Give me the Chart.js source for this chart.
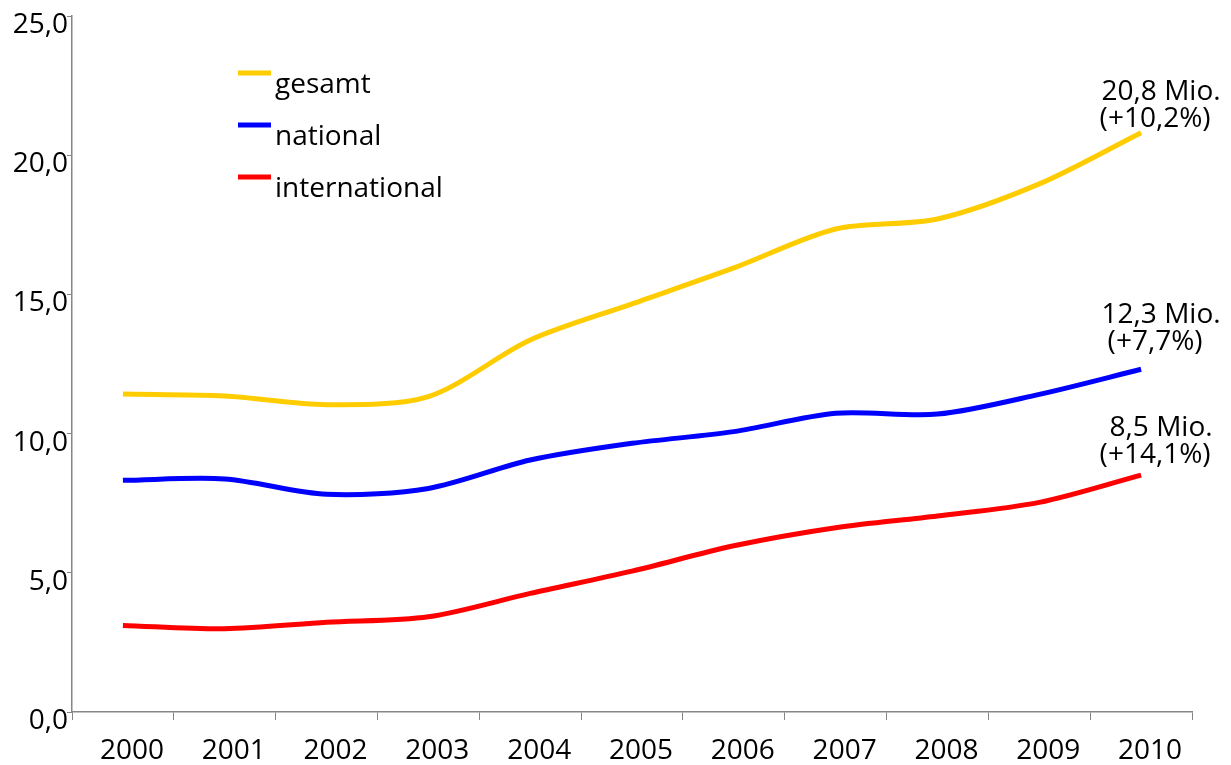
<!DOCTYPE html>
<html>
<head>
<meta charset="utf-8">
<script src="https://cdn.jsdelivr.net/npm/chart.js@4"></script>
<style>
  html, body { margin: 0; padding: 0; background: #fff; }
  #wrap { width: 1231px; height: 765px; }
</style>
</head>
<body>
<div id="wrap"><canvas id="chart"></canvas></div>
<script>
const years = ["2000", "2001", "2002", "2003", "2004", "2005", "2006", "2007", "2008", "2009", "2010"];
const gesamt = [11.42, 11.35, 11.04, 11.33, 13.36, 14.66, 15.95, 17.35, 17.71, 18.97, 20.81];
const national = [8.32, 8.37, 7.82, 8.03, 9.05, 9.65, 10.07, 10.73, 10.70, 11.41, 12.31];
const international = [3.11, 2.99, 3.22, 3.42, 4.26, 5.06, 5.97, 6.62, 7.04, 7.53, 8.51];
const seriesNames = ["gesamt", "national", "international"];
const endValues = ["20,8 Mio.", "12,3 Mio.", "8,5 Mio."];
const endChanges = ["(+10,2%)", "(+7,7%)", "(+14,1%)"];

const FONT = "'Open Sans', 'Noto Sans', sans-serif";
const AXIS = "#868686";

// legend at top left inside the plot
const legendPlugin = {
  id: "ownLegend",
  afterDraw(chart) {
    const ctx = chart.ctx;
    const area = chart.chartArea;
    ctx.save();
    ctx.font = "28px " + FONT;
    ctx.textBaseline = "alphabetic";
    ctx.textAlign = "left";
    chart.data.datasets.forEach(function (ds, i) {
      const y = area.top + 57 + i * 52;
      ctx.strokeStyle = ds.borderColor;
      ctx.lineWidth = 5;
      ctx.beginPath();
      ctx.moveTo(area.left + 166, y);
      ctx.lineTo(area.left + 199, y);
      ctx.stroke();
      ctx.fillStyle = "#000";
      ctx.fillText(ds.label, area.left + 203, y + 20);
    });
    ctx.restore();
  }
};

// two-line note above the last point of each line
const endLabelPlugin = {
  id: "endLabels",
  afterDatasetsDraw(chart) {
    const ctx = chart.ctx;
    const lift = [6, 19, 12];
    ctx.save();
    ctx.font = "28px " + FONT;
    ctx.fillStyle = "#000";
    ctx.textAlign = "center";
    ctx.textBaseline = "alphabetic";
    chart.data.datasets.forEach(function (ds, i) {
      const pts = chart.getDatasetMeta(i).data;
      const p = pts[pts.length - 1];
      const base = p.y - lift[i];
      ctx.fillText(endValues[i], p.x + 20, base - 27);
      ctx.fillText(endChanges[i], p.x + 14, base);
    });
    ctx.restore();
  }
};

const ctx = document.getElementById("chart").getContext("2d");
const chart = new Chart(ctx, {
  type: "line",
  data: {
    labels: years,
    datasets: [
      { label: seriesNames[0], data: gesamt, borderColor: "#ffcc00" },
      { label: seriesNames[1], data: national, borderColor: "#0000ff" },
      { label: seriesNames[2], data: international, borderColor: "#ff0000" }
    ]
  },
  options: {
    responsive: true,
    maintainAspectRatio: false,
    animation: false,
    layout: { padding: { top: 16, right: 39, left: 0, bottom: 0 } },
    elements: {
      line: { borderWidth: 5, tension: 0.3, fill: false },
      point: { radius: 0, hoverRadius: 0 }
    },
    plugins: {
      legend: { display: false },
      tooltip: { enabled: false }
    },
    scales: {
      x: {
        offset: true,
        grid: { offset: true, drawOnChartArea: false, color: AXIS, tickLength: 8 },
        border: { color: AXIS, width: 1.5 },
        ticks: { color: "#000", font: { family: FONT, size: 28 }, padding: 14, labelOffset: 9, maxRotation: 0 },
        afterFit(scale) {
          scale.height = 53;
          scale.paddingLeft = 0;
          scale.paddingRight = 0;
        }
      },
      y: {
        min: 0,
        max: 25,
        ticks: {
          stepSize: 5,
          color: "#000",
          font: { family: FONT, size: 28 },
          padding: -1,
          labelOffset: 9,
          callback: function (v) { return v.toFixed(1).replace(".", ","); }
        },
        grid: { drawOnChartArea: false, color: AXIS, tickLength: 5 },
        border: { color: AXIS, width: 1.5 },
        afterFit(scale) {
          scale.width = 72;
          scale.paddingTop = 0;
          scale.paddingBottom = 0;
        }
      }
    }
  },
  plugins: [legendPlugin, endLabelPlugin]
});
</script>
</body>
</html>
